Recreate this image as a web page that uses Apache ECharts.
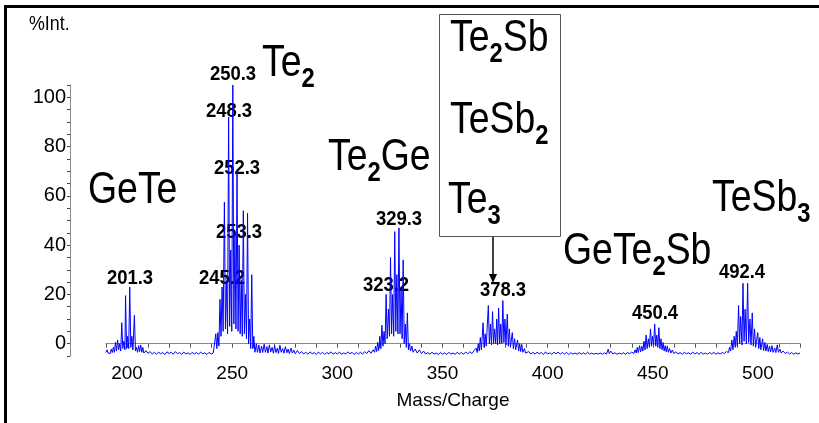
<!DOCTYPE html>
<html>
<head>
<meta charset="utf-8">
<script src="https://cdn.jsdelivr.net/npm/echarts@6/dist/echarts.min.js"></script>
<style>
html,body{margin:0;padding:0;background:#fff}
#graph1{width:819px;height:423px}
</style>
</head>
<body>
<div id="graph1"></div>
<script>
var FONT = "'Liberation Sans',Arial,sans-serif";
var SX = 0.85; // the reference text is a bit squeezed sideways

// spectrum trace, [m/z, %Int.], cluster by cluster
var noiseStart = [[190,-3.5],[190.5,-2.5],[191,-3.8],[191.5,-3],[192,-4],[192.5,-2.2],[193,-3.6]];
var geTe = [[193.5,-1.5],[194,-3.5],[194.5,0.5],[195,-3],[195.5,1.5],[196,-2.5],[196.5,0],[197,-3],[197.5,8.5],[198,-2],[198.5,1],[199,-2.5],[199.3,19.5],[199.8,-2],[200.3,3],[200.8,-2],[201.3,23],[201.8,-1.5],[202.3,3],[202.8,-2.5],[203.5,11.5],[204,-3],[204.5,-1.5],[205,-3.5],[205.5,-0.8],[206,-3.2],[206.5,-0.5],[207,-3.5],[207.5,-1.5],[208,-3.8]];
var noise1 = [[209,-2.8],[210,-3.9],[211,-3.2],[212,-4.2],[213,-3.5],[214,-4.3],[215,-3.4],[216,-4.1],[217,-3.6],[218,-4.4],[219,-3.3],[220,-4],[221,-3.5],[222,-4.3],[223,-3.2],[224,-4.1],[225,-3.6],[226,-4.3],[227,-3.4],[228,-4.2],[229,-3.7],[230,-4.4],[231,-3.5],[232,-4.2],[233,-3.6],[234,-4.3],[235,-3.4],[236,-4.1],[237,-3.7],[238,-4.4],[239,-3.5],[240,-4.2],[241,-3.8]];
var te2 = [[241.7,-4],[242.2,4],[242.7,-2],[243.2,4.5],[243.7,-1],[244.2,18],[244.7,3],[245.2,23],[245.7,5],[246.3,57.5],[246.8,6],[247.3,25],[247.8,4],[248.3,92],[248.8,7],[249.3,38],[249.8,5],[250.3,105],[250.8,8],[251.3,45],[251.8,6],[252.3,70],[252.8,5],[253.3,40],[253.8,4],[254.3,26],[254.8,3],[255.3,54],[255.8,4],[256.3,20],[256.8,2],[257.3,53],[257.8,0],[258.3,10],[258.8,-2],[259.3,28],[259.8,-2],[260.3,3],[260.8,-3.5]];
var ringing = [[261.5,0],[262,-3.5],[262.7,-0.5],[263.2,-3.8],[264,-1],[264.5,-3.6],[265.2,-0.2],[265.8,-3.5],[266.5,-1.2],[267,-3.8],[267.7,-0.5],[268.3,-3.4],[269,-1.5],[269.6,-3.9],[270.2,-0.8],[270.8,-3.6],[271.5,-1.8],[272,-4],[272.7,-0.6],[273.3,-3.5],[274,-2],[274.6,-3.9],[275.3,-1.2],[276,-3.7],[276.6,-2.2],[277.2,-4],[278,-1.8],[278.6,-3.8],[279.3,-2.6],[280,-4.1],[281,-2.8],[282,-4]];
var noise2 = [[283,-3.2],[284,-4.2],[285,-3.5],[286,-4.3],[287,-3.3],[288,-4.1],[289,-3.6],[290,-4.4],[291,-3.4],[292,-4.2],[293,-3.5],[294,-4.3],[295,-3.6],[296,-4.1],[297,-3.3],[298,-4.3],[299,-3.6],[300,-4.2],[301,-3.4],[302,-4.3],[303,-3.7],[304,-4.2],[305,-3.3],[306,-4.1],[307,-3.5],[308,-4.4],[309,-3.6],[310,-4.2],[311,-3.4],[312,-4.3],[313,-3.2],[314,-4],[315,-2.8],[316,-3.9],[317,-2.5]];
var te2Ge = [[317.7,-3.5],[318.2,-1],[318.7,-3.2],[319.2,0.5],[319.7,-2.8],[320.2,3],[320.7,-2],[321.2,7.5],[321.7,-1],[322.2,5],[322.7,0],[323.2,20],[323.7,2],[324.3,14],[324.8,3],[325.3,35],[325.8,4],[326.3,20],[326.8,3],[327.3,45.5],[327.8,5],[328.3,28],[328.8,4],[329.3,47],[329.8,4],[330.3,22],[330.8,2],[331.3,34],[331.8,0],[332.3,8],[332.8,-1.5],[333.3,12.5],[333.8,-2.5],[334.3,0],[334.8,-3],[335.5,-1],[336,-3.5],[337,-2.2],[338,-3.8],[339,-2.5],[340,-4],[341,-3],[342,-4.2]];
var noise3 = [[343,-3.6],[344,-4.3],[345,-3.5],[346,-4.2],[347,-3.8],[348,-4.4],[349,-3.6],[350,-4.2],[351,-3.7],[352,-4.4],[353,-3.5],[354,-4.2],[355,-3.8],[356,-4.3],[357,-3.5],[358,-4.2],[359,-3.6],[360,-4.3],[361,-3.4],[362,-4.1],[363,-3.3],[364,-4],[365,-2.8]];
var te3 = [[365.5,-3.5],[366,-1.8],[366.5,-3.6],[367,0],[367.5,-3],[368,2.5],[368.5,-2.5],[369.3,8.5],[369.8,-1.5],[370.3,4],[370.8,-1],[371.8,15.5],[372.3,0],[372.8,8],[373.3,-0.5],[373.8,13],[374.3,0],[374.8,6],[375.3,0],[375.8,10],[376.2,-0.5],[376.7,14.5],[377.2,0],[377.7,8],[378.2,0],[378.7,17.5],[379.2,0.5],[379.7,10],[380.2,-0.5],[380.8,12],[381.3,-1],[381.8,6],[382.3,-1.5],[383.2,4.5],[383.7,-2],[384.3,2],[384.8,-2.5],[385.7,1.5],[386.2,-3],[386.7,0],[387.2,-3.2],[387.7,-0.3],[388.2,-3.5],[389,-2],[389.5,-3.8]];
var noise4 = [[391,-3.2],[392,-4.2],[393,-3.5],[394,-4.3],[395,-3.4],[396,-4.1],[397,-3.6],[398,-4.4],[399,-3.3],[400,-4.2],[401,-3.7],[402,-4.3],[403,-3.5],[404,-4.1],[405,-3.4],[406,-4.3],[407,-3.6],[408,-4.2],[409,-3.5],[410,-4.4],[411,-3.7],[412,-4.2],[413,-3.8],[414,-4.3],[415,-3.6],[416,-4.2],[417,-3.7],[418,-4.3],[419,-3.5],[420,-4.2],[421,-3.8],[422,-4.3],[423,-3.9],[424,-4.2],[425,-3.8],[426,-4.3],[427,-3.7],[428,-4.2],[428.8,-2.2],[429.3,-4],[430,-3],[431,-4.2],[432,-3.7],[433,-4.3],[434,-3.8],[435,-4.2],[436,-3.7],[437,-4.3],[438,-3.6],[439,-4.1],[440,-3.4],[441,-4]];
var geTe2Sb = [[441.6,-2.5],[442.1,-3.8],[442.6,-1.5],[443.1,-3.6],[443.7,-0.8],[444.2,-3.4],[444.8,-1],[445.3,-3],[445.8,1],[446.3,-2.5],[446.8,3.5],[447.3,-2],[447.9,2],[448.4,-1.5],[448.9,6],[449.4,-1],[449.9,3],[450.4,-0.5],[450.9,8],[451.4,-1],[451.9,3.5],[452.4,-1.5],[452.9,6.5],[453.4,-2],[453.9,2],[454.4,-2.5],[454.9,0.5],[455.4,-3],[455.9,-0.8],[456.4,-3.3],[456.9,-1],[457.4,-3.5],[458,-2],[458.6,-3.8],[459.3,-2.6],[460,-4]];
var noise5 = [[461,-3.3],[462,-4.2],[463,-3.6],[464,-4.3],[465,-3.5],[466,-4.1],[467,-3.7],[468,-4.3],[469,-3.4],[470,-4.2],[471,-3.6],[472,-4.3],[473,-3.5],[474,-4.2],[475,-3.8],[476,-4.3],[477,-3.6],[478,-4.2],[479,-3.5],[480,-4.3],[481,-3.7],[482,-4.2],[483,-3.6],[484,-4],[485,-3.2],[486,-3.6]];
var teSb3 = [[486.5,-1.5],[487,-3],[487.6,1.5],[488.1,-2.5],[488.7,3],[489.2,-1.5],[489.7,5],[490.2,-1],[490.8,15.5],[491.3,0],[491.8,11],[492.4,-0.5],[492.9,24.5],[493.4,1],[493.9,14],[494.5,0],[495.1,24.5],[495.6,0.5],[496.2,10],[496.7,-0.5],[497.3,12.5],[497.8,-1],[498.4,6],[498.9,-1.5],[499.9,4.5],[500.4,-2],[500.9,2.5],[501.4,-2.5],[502.2,2],[502.7,-2.8],[503.3,0.5],[503.8,-3],[504.4,-0.3],[504.9,-3.2],[505.5,-1],[506,-3.4],[506.7,-0.8],[507.2,-3.5],[508,-1.8],[508.5,-3.6],[509.2,-0.5],[509.7,-3.5],[510.5,-2.2],[511,-3.8],[512,-3],[513,-4]];
var noiseEnd = [[514,-3.4],[515,-4.2],[516,-3.6],[517,-4.3],[518,-3.7],[519,-4.2],[520,-3.8]];

var trace = [].concat(noiseStart, geTe, noise1, te2, ringing, noise2, te2Ge, noise3, te3, noise4, geTe2Sb, noise5, teSb3, noiseEnd);

// peak labels and formula labels
var peakLabels = ['250.3','248.3','252.3','253.3','245.2','201.3','329.3','323.2','378.3','450.4','492.4'];
var peakPos = [[233,74],[229,111],[237,168],[239,232],[222,278],[130,278],[399,219],[386,285],[503,290],[655,313],[742,272]];

// even entries are normal text, odd entries are subscripts
var formulas = [
    ['GeTe'], ['Te','2'], ['Te','2','Ge'], ['Te','2','Sb'], ['TeSb','2'], ['Te','3'], ['GeTe','2','Sb'], ['TeSb','3']
];
var formulaPos = [[88,191],[262,64],[328,158],[450,39],[450,121],[448,201],[563,252],[712,199]];

var MAIN_FONT = '44px ' + FONT;
var SUB_FONT = 'bold 28px ' + FONT;

var ctx = document.createElement('canvas').getContext('2d');
function textWidth(t, font) {
    ctx.font = font;
    return ctx.measureText(t).width;
}

var myChart1 = echarts.init(document.getElementById('graph1'));

var graphics = [
    {type:'rect', shape:{x:4,y:5,width:815,height:3}, style:{fill:'#000'}},
    {type:'rect', shape:{x:4,y:5,width:3,height:418}, style:{fill:'#000'}},
    {type:'text', x:29, y:24, scaleX:SX, style:{text:'%Int.', font:'21px ' + FONT, fill:'#000', verticalAlign:'middle'}},
    {type:'rect', shape:{x:439.5,y:14.5,width:121,height:222}, style:{fill:'none', stroke:'#555', lineWidth:1}},
    {type:'line', shape:{x1:493,y1:237,x2:493,y2:276}, style:{stroke:'#000', lineWidth:1.5}},
    {type:'polygon', shape:{points:[[489,274],[497,274],[493,283]]}, style:{fill:'#000'}}
];

for (var i = 0; i < peakLabels.length; i++) {
    graphics.push({
        type:'text', x:peakPos[i][0], y:peakPos[i][1], scaleX:0.88,
        style:{text:peakLabels[i], font:'bold 21px ' + FONT, fill:'#000', align:'center', verticalAlign:'middle'}
    });
}

for (var j = 0; j < formulas.length; j++) {
    var parts = formulas[j];
    var cx = formulaPos[j][0];
    for (var k = 0; k < parts.length; k++) {
        var sub = k % 2 === 1;
        var f = sub ? SUB_FONT : MAIN_FONT;
        graphics.push({
            type:'text', x:cx, y:formulaPos[j][1] + (sub ? 15 : 0), scaleX:SX,
            style:{text:parts[k], font:f, fill:'#000', align:'left', verticalAlign:'middle'}
        });
        cx += textWidth(parts[k], f) * SX;
    }
}

var option = {
    animation: false,
    grid: {left:106, right:19, top:85, bottom:67},
    xAxis: {
        type:'value', min:190, max:520, interval:10,
        name:'Mass/Charge', nameLocation:'middle', nameGap:35,
        nameTextStyle:{fontSize:19, color:'#000', fontFamily:FONT},
        axisLine:{show:true, lineStyle:{color:'#8a8a8a', width:1}},
        axisTick:{show:true, length:4, lineStyle:{color:'#555'}},
        axisLabel:{
            margin:8, fontSize:19, color:'#000', fontFamily:FONT,
            formatter:function (v) { return v % 50 === 0 ? String(v) : ''; }
        },
        splitLine:{show:false}
    },
    yAxis: {
        type:'value', min:-5, max:105, interval:5, offset:36,
        axisLine:{show:true, lineStyle:{color:'#8a8a8a', width:1}},
        axisTick:{show:true, length:3, lineStyle:{color:'#444'}},
        axisLabel:{
            margin:4, fontSize:20, color:'#000', fontFamily:FONT,
            formatter:function (v) { return (v >= 0 && v <= 100 && v % 20 === 0) ? String(v) : ''; }
        },
        splitLine:{show:false}
    },
    series: {
        type:'line', data:trace, showSymbol:false, silent:true,
        lineStyle:{color:'#0000ff', width:1}
    },
    graphic: graphics
};
myChart1.setOption(option);
</script>
</body>
</html>
